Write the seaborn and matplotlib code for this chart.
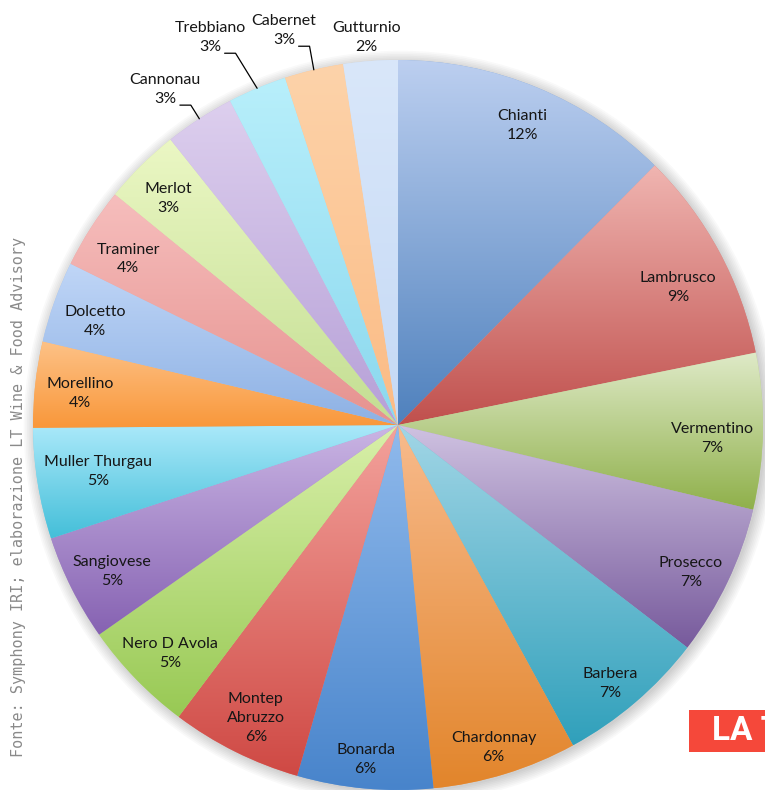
import numpy as np
import matplotlib.pyplot as plt
import seaborn as sns
from matplotlib.patches import Rectangle, Circle

# quota di mercato per vitigno (%)
wines = ["Chianti", "Lambrusco", "Vermentino", "Prosecco", "Barbera", "Chardonnay",
         "Bonarda", "Montep\nAbruzzo", "Nero D Avola", "Sangiovese", "Muller Thurgau",
         "Morellino", "Dolcetto", "Traminer", "Merlot", "Cannonau", "Trebbiano",
         "Cabernet", "Gutturnio"]
shares = [12.4, 9.4, 6.9, 6.7, 6.6, 6.4, 6.0, 5.8, 5.0, 4.7, 4.9,
          3.8, 3.6, 3.6, 3.4, 3.1, 2.6, 2.6, 2.4]

# gradient colours (top -> bottom), Excel style
light = ["#bccff0", "#f0b5b1", "#dfeac8", "#cfc2e1", "#a2d6e6", "#f8bb8d",
         "#90baec", "#f3a29c", "#d9f0aa", "#cab5e4", "#abe9fa", "#fdc287",
         "#c0d6f7", "#f6bebd", "#ebf7c4", "#ddcfee", "#b8effb", "#fdd3aa", "#d9e7fa"]
dark = ["#4f81bd", "#c0504d", "#8fb04a", "#775a9c", "#30a0bb", "#e2852b",
        "#4884cb", "#cf4944", "#98c954", "#8662b2", "#44bfd9", "#f9973a",
        "#8db1e4", "#e6928f", "#c3de92", "#b6a0d7", "#8bd8ee", "#fbbb84", "#c5d9f5"]

# label placement: (radius, clockwise shift from slice middle in degrees)
label_pos = {"Chianti": (0.889, 0.2), "Lambrusco": (0.854, 2.3), "Vermentino": (0.861, 1.4),
             "Prosecco": (0.899, 1.3), "Barbera": (0.917, 1.2), "Chardonnay": (0.921, 0.6),
             "Bonarda": (0.922, 0.3), "Montep\nAbruzzo": (0.892, -0.6),
             "Nero D Avola": (0.885, -1.0), "Sangiovese": (0.881, -0.6),
             "Muller Thurgau": (0.832, 0.4), "Morellino": (0.875, -0.8),
             "Dolcetto": (0.878, -0.8), "Traminer": (0.868, -1.1), "Merlot": (0.885, -0.7),
             "Cannonau": (1.118, -1.8), "Trebbiano": (1.179, -3.2),
             "Cabernet": (1.124, -2.8), "Gutturnio": (1.066, -0.3)}
leader = ["Cannonau", "Trebbiano", "Cabernet"]

sns.set_style("white")
plt.rcParams["font.family"] = ["Lato", "DejaVu Sans"]

fig = plt.figure(figsize=(7.65, 7.9), dpi=100)
ax = fig.add_axes([0, 0, 1, 1])

# soft shadow behind the pie
for i in range(8):
    ax.add_patch(Circle((0.006, -0.006), 1.0 + 0.0045 * i, color="black",
                        alpha=0.022, lw=0, zorder=0))

mid_cols = [sns.blend_palette([a, b], 3)[1] for a, b in zip(light, dark)]
wedges, _ = ax.pie(shares, colors=mid_cols, startangle=90, counterclock=False,
                   radius=1.0, wedgeprops=dict(linewidth=0, zorder=1))

total = sum(shares)
grad = np.linspace(0, 1, 256).reshape(-1, 1)
for w, c0, c1, name, v in zip(wedges, light, dark, wines, shares):
    th = np.radians(np.linspace(w.theta1, w.theta2, 200))
    xs = np.r_[0, np.cos(th)]
    ys = np.r_[0, np.sin(th)]
    cmap = sns.blend_palette([c1, c0], as_cmap=True)
    im = ax.imshow(grad, cmap=cmap, origin="lower", aspect="auto",
                   extent=(xs.min(), xs.max(), ys.min(), ys.max()),
                   interpolation="bilinear", zorder=2)
    im.set_clip_path(w)

    label = f"{name}\n{round(v / total * 100)}%"
    mid = (w.theta1 + w.theta2) / 2
    r, shift = label_pos[name]
    a = np.radians(mid - shift)
    tx, ty = r * np.cos(a), r * np.sin(a)
    ax.text(tx, ty, label, ha="center", va="center", fontsize=11.5,
            color="#161616", linespacing=1.45, zorder=5)
    if name in leader:
        am = np.radians(mid)
        ly = ty - 0.042
        ax.plot([tx + 0.04, tx + 0.07, np.cos(am)], [ly, ly, np.sin(am)],
                color="black", lw=0.9, zorder=5)

ax.set_xlim(-398 / 365, 367 / 365)
ax.set_ylim(-365 / 365, 425 / 365)
ax.set_aspect("equal")
ax.axis("off")

# source note, vertical on the left
fig.text(19 / 765, 1 - 497 / 790, "Fonte: Symphony IRI; elaborazione LT Wine & Food Advisory",
         rotation=90, ha="center", va="center", fontsize=10.9, color="#8a8a8a",
         family=["DejaVu Sans Mono"])

# red badge bottom right (cut off in the source as well)
fig.add_artist(Rectangle((689 / 765, 1 - 752 / 790), 80 / 765, 42 / 790,
                         transform=fig.transFigure, facecolor="#f5483a", edgecolor="none"))
fig.text(712 / 765, 1 - 731 / 790, "LA T", ha="left", va="center", fontsize=24,
         fontweight="bold", color="white", family=["Roboto", "DejaVu Sans"])

fig.savefig("out.png", dpi=100)
